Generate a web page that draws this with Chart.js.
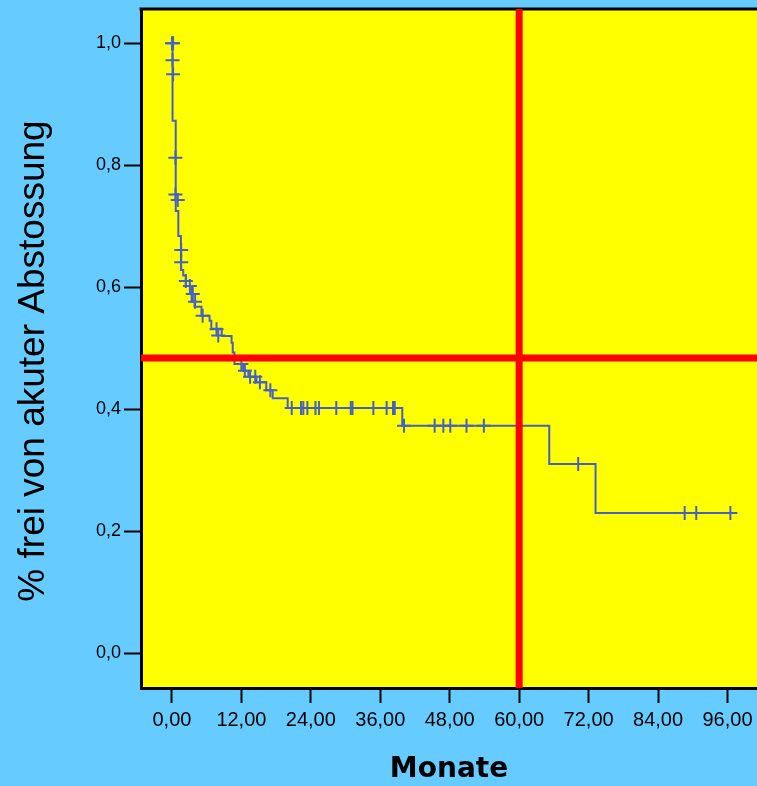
<!DOCTYPE html>
<html>
<head>
<meta charset="utf-8">
<script src="https://cdn.jsdelivr.net/npm/chart.js@4/dist/chart.umd.min.js"></script>
<style>
  html, body { margin: 0; padding: 0; background: #66CCFF; }
  canvas { display: block; }
</style>
</head>
<body>
<canvas id="km" width="757" height="786"></canvas>
<script>
// Kaplan-Meier steps: time in months, survival after the drop
var stepTimes = [0, 0.1, 0.65, 1.1, 1.55, 1.95, 2.4, 3.4, 3.9, 4.3, 5.1, 6.5, 6.8, 8.6, 10.3, 10.5, 10.8, 12.3, 13.2, 14.6, 16.3, 17.4, 20.0, 39.8, 65.2, 73.2, 97.6];
var stepSurv = [1.0, 0.873, 0.725, 0.684, 0.628, 0.619, 0.602, 0.576, 0.568, 0.568, 0.553, 0.545, 0.532, 0.520, 0.509, 0.493, 0.474, 0.463, 0.453, 0.444, 0.431, 0.418, 0.402, 0.373, 0.310, 0.230, 0.230];

// censored cases (+)
var censorTimes = [0, 0.2, 0.1, 0.2, 0.6, 0.6, 1.0, 1.6, 1.6, 2.4, 3.1, 3.6, 4.0, 5.3, 7.7, 8.0, 12.0, 12.6, 13.5, 14.4, 15.2, 17.0, 20.7, 22.3, 22.7, 23.4, 24.8, 25.4, 28.4, 30.9, 31.2, 34.8, 37.1, 38.2, 38.5, 40.1, 45.4, 46.9, 48.1, 50.9, 53.9, 70.2, 88.6, 90.6, 96.5];
var censorSurv = [1.0, 1.0, 0.972, 0.949, 0.812, 0.752, 0.743, 0.661, 0.641, 0.610, 0.602, 0.589, 0.576, 0.553, 0.531, 0.521, 0.474, 0.463, 0.453, 0.453, 0.444, 0.431, 0.402, 0.402, 0.402, 0.402, 0.402, 0.402, 0.402, 0.402, 0.402, 0.402, 0.402, 0.402, 0.402, 0.373, 0.373, 0.373, 0.373, 0.373, 0.373, 0.310, 0.230, 0.230, 0.230];

// reference lines
var refLevel = 0.484;
var refMonth = 60;

var xTicks = [0, 12, 24, 36, 48, 60, 72, 84, 96];
var yTicks = [0, 0.2, 0.4, 0.6, 0.8, 1.0];
var xRange = [-5.35, 101.1];
var yRange = [-0.057, 1.056];

var yTitle = '% frei von akuter Abstossung';
var blue = '#4561C6';

function zip(xs, ys) {
  return xs.map(function (x, i) { return { x: x, y: ys[i] }; });
}

var frame = {
  id: 'frame',
  beforeDraw: function (chart) {
    var ctx = chart.ctx, a = chart.chartArea;
    ctx.save();
    ctx.fillStyle = '#66CCFF';
    ctx.fillRect(0, 0, chart.width, chart.height);
    ctx.fillStyle = '#FFFF00';
    ctx.fillRect(a.left, a.top, a.right - a.left, a.bottom - a.top);
    ctx.restore();
  },
  beforeDatasetsDraw: function (chart) {
    var ctx = chart.ctx, a = chart.chartArea;
    ctx.save();
    ctx.strokeStyle = '#000';
    ctx.lineWidth = 3;
    ctx.beginPath();
    ctx.moveTo(a.left - 1.5, a.top);
    ctx.lineTo(a.right, a.top);
    ctx.stroke();
    ctx.restore();
  },
  afterDraw: function (chart) {
    // y axis title, placed a bit lower than the scale centre as in the original
    var ctx = chart.ctx;
    ctx.save();
    ctx.translate(34, 361);
    ctx.rotate(-Math.PI / 2);
    ctx.fillStyle = '#000';
    ctx.font = '37px "Liberation Sans"';
    ctx.textAlign = 'center';
    ctx.textBaseline = 'middle';
    ctx.fillText(yTitle, 0, 0);
    ctx.restore();
  }
};

new Chart(document.getElementById('km'), {
  type: 'line',
  data: {
    datasets: [
      {
        data: zip([xRange[0], xRange[1]], [refLevel, refLevel]),
        borderColor: '#FF0000', borderWidth: 7, pointRadius: 0, order: 0
      },
      {
        data: zip([refMonth, refMonth], [yRange[0], yRange[1]]),
        borderColor: '#FF0000', borderWidth: 7, pointRadius: 0, order: 0
      },
      {
        data: zip(stepTimes, stepSurv),
        borderColor: blue, borderWidth: 2, pointRadius: 0, stepped: 'before', order: 1
      },
      {
        data: zip(censorTimes, censorSurv),
        showLine: false, pointStyle: 'cross', pointRadius: 7, borderColor: blue,
        pointBorderWidth: 2, order: 2
      }
    ]
  },
  options: {
    responsive: false,
    animation: false,
    layout: { autoPadding: false, padding: { top: 9, left: 0, right: 0, bottom: 0 } },
    plugins: { legend: { display: false }, tooltip: { enabled: false } },
    scales: {
      x: {
        type: 'linear', min: xRange[0], max: xRange[1],
        afterBuildTicks: function (s) { s.ticks = xTicks.map(function (v) { return { value: v }; }); },
        afterFit: function (s) { s.height = 98; s.paddingLeft = 0; s.paddingRight = 0; },
        grid: { drawOnChartArea: false, drawTicks: true, tickLength: 15, tickColor: '#000', tickWidth: 2 },
        border: { display: true, color: '#000', width: 3 },
        ticks: {
          color: '#000', padding: 5, maxRotation: 0,
          font: { family: 'Liberation Sans', size: 20 },
          callback: function (v) { return v.toFixed(2).replace('.', ','); }
        },
        title: {
          display: true, text: 'Monate', color: '#000',
          font: { family: 'DejaVu Sans', size: 28, weight: 'bold', lineHeight: 1 },
          padding: { top: 0, bottom: 2 }
        }
      },
      y: {
        type: 'linear', min: yRange[0], max: yRange[1],
        afterBuildTicks: function (s) { s.ticks = yTicks.map(function (v) { return { value: v }; }); },
        afterFit: function (s) { s.width = 141; s.paddingTop = 0; s.paddingBottom = 0; },
        grid: { drawOnChartArea: false, drawTicks: true, tickLength: 17, tickColor: '#000', tickWidth: 2 },
        border: { display: true, color: '#000', width: 3 },
        ticks: {
          color: '#000', padding: 3,
          font: { family: 'Liberation Sans', size: 18 },
          callback: function (v) { return v.toFixed(1).replace('.', ','); }
        },
        title: { display: false }
      }
    }
  },
  plugins: [frame]
});
</script>
</body>
</html>
